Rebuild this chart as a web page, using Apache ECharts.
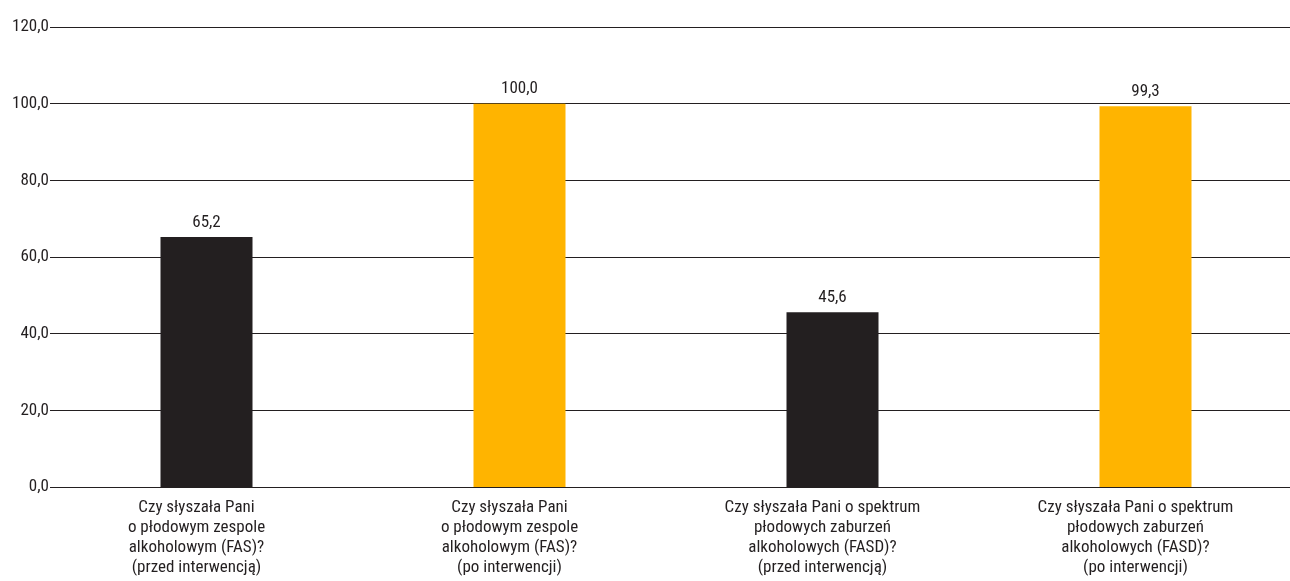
<!DOCTYPE html>
<html>
<head>
<meta charset="utf-8">
<script src="https://cdn.jsdelivr.net/npm/echarts@6/dist/echarts.min.js"></script>
<style>
  html, body { margin: 0; padding: 0; background: #fff; overflow: hidden; }
  /* the plot runs slightly past the right edge of the page */
  #chart { width: 1302px; height: 581px; }
</style>
</head>
<body>
<div id="chart"></div>
<script>
// Survey questions (before / after the intervention)
const categories = [
  'Czy słyszała Pani\no płodowym zespole\nalkoholowym (FAS)?\n(przed interwencją)',
  'Czy słyszała Pani\no płodowym zespole\nalkoholowym (FAS)?\n(po interwencji)',
  'Czy słyszała Pani o spektrum\npłodowych zaburzeń\nalkoholowych (FASD)?\n(przed interwencją)',
  'Czy słyszała Pani o spektrum\npłodowych zaburzeń\nalkoholowych (FASD)?\n(po interwencji)'
];
// Share of respondents answering "yes", in percent
const values = [65.2, 100.0, 45.6, 99.3];
const barColors = ['#231f20', '#ffb400', '#231f20', '#ffb400'];

const FONT = '"Roboto Condensed", "Liberation Sans Narrow", sans-serif';
const INK = '#231f20';
const fmt = v => Number(v).toFixed(1).replace('.', ',');

const chart = echarts.init(document.getElementById('chart'));
chart.setOption({
  animation: false,
  backgroundColor: '#fff',
  grid: { left: 50, right: 0, top: 27, bottom: 94, containLabel: false },
  xAxis: {
    type: 'category',
    data: categories,
    axisLine: { show: false },
    axisTick: { show: false },
    axisLabel: {
      interval: 0,
      margin: 11,
      color: INK,
      fontFamily: FONT,
      fontSize: 17,
      lineHeight: 20,
      align: 'center',
      padding: [0, 20, 0, 0]
    }
  },
  yAxis: {
    type: 'value',
    min: 0,
    max: 120,
    interval: 20,
    axisLine: { show: false },
    axisTick: { show: false },
    splitLine: { show: true, lineStyle: { color: INK, width: 1 } },
    axisLabel: {
      margin: 1,
      color: INK,
      fontFamily: FONT,
      fontSize: 17,
      formatter: fmt
    }
  },
  series: [{
    type: 'bar',
    barWidth: 92,
    data: values.map((v, i) => ({ value: v, itemStyle: { color: barColors[i] } })),
    label: {
      show: true,
      position: 'top',
      distance: 6,
      color: INK,
      fontFamily: FONT,
      fontSize: 17,
      formatter: p => fmt(p.value)
    }
  }]
});
</script>
</body>
</html>
